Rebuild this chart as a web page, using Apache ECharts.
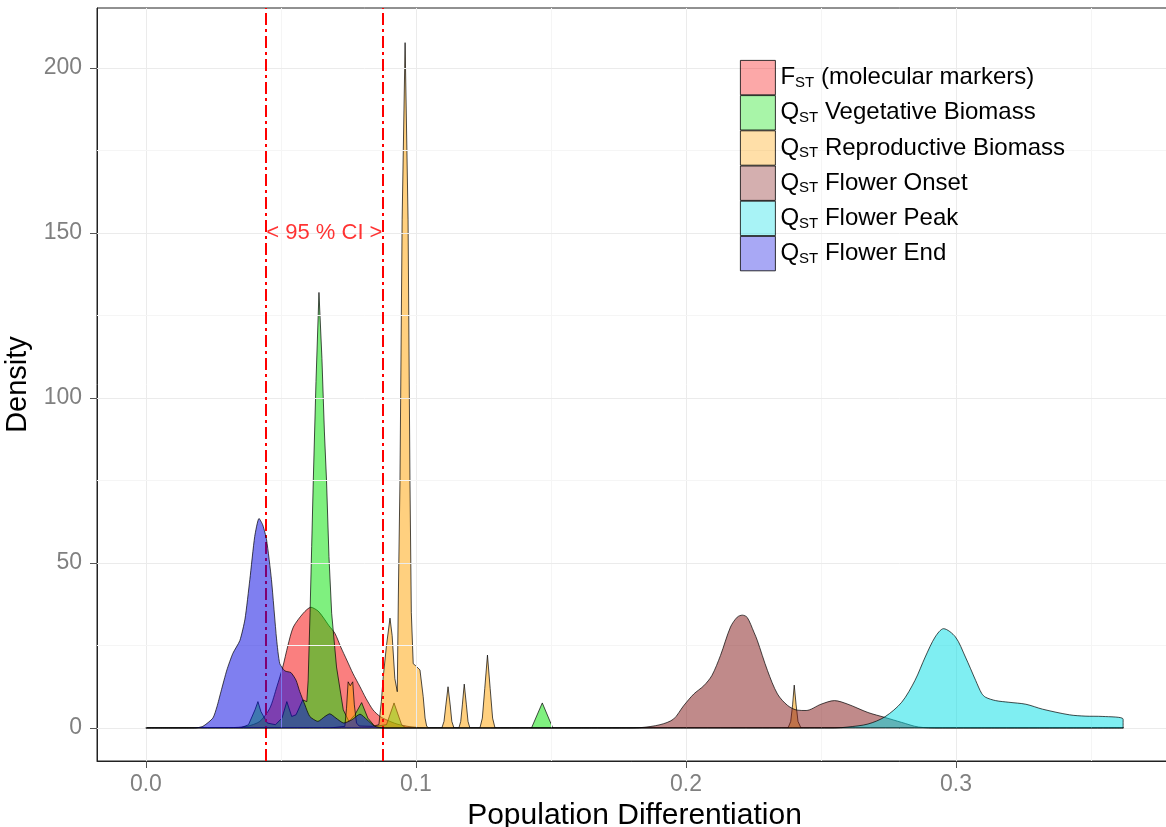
<!DOCTYPE html>
<html>
<head>
<meta charset="utf-8">
<script src="https://cdn.jsdelivr.net/npm/echarts@6/dist/echarts.min.js"></script>
<style>
html,body{margin:0;padding:0;background:#fff;}
#chart{width:1166px;height:827px;}
</style>
</head>
<body>
<div id="chart"></div>
<script>
// ---- data ----
const seriesNames = [
  'FST (molecular markers)',
  'QST Vegetative Biomass',
  'QST Reproductive Biomass',
  'QST Flower Onset',
  'QST Flower Peak',
  'QST Flower End'
];

const fstDensity = [[0,0],[0.031,0.1],[0.0374,0.5],[0.0422,2],[0.0459,6],[0.0485,12.5],[0.0507,18.5],[0.0526,25],[0.0546,30.6],[0.0583,34.8],[0.0611,36.6],[0.0637,35.5],[0.0656,33.6],[0.0678,31],[0.07,28.7],[0.0722,24.5],[0.0744,20.6],[0.0767,16.5],[0.0793,12.5],[0.0815,9],[0.0841,5.5],[0.0867,3.5],[0.0893,2.4],[0.093,1.2],[0.0978,0.4],[0.105,0],[0.362,0]];

const vegDensity = [[0,0],[0.035,0],[0.038,1],[0.0404,5.5],[0.0415,8],[0.0426,5],[0.045,1.5],[0.048,1],[0.0504,3],[0.0522,8],[0.054,3.5],[0.0556,4],[0.0581,8.5],[0.0596,8],[0.0601,14.5],[0.0608,35],[0.0614,55],[0.062,75],[0.063,105],[0.0641,132],[0.0652,112],[0.0661,90],[0.0669,75],[0.0678,52],[0.0688,34.8],[0.0706,18.5],[0.0731,5.5],[0.0752,2],[0.0774,4],[0.0799,7.7],[0.0822,3],[0.0848,0.5],[0.0891,1],[0.0919,7.6],[0.0947,1],[0.0963,0],[0.1428,0],[0.1468,7.6],[0.1507,0],[0.362,0]];

const reproDensity = [[0,0],[0.068,0],[0.0737,0.5],[0.0743,6],[0.0749,14],[0.0757,12.8],[0.0766,14],[0.0772,7],[0.078,1.5],[0.079,0.6],[0.084,0.5],[0.0863,1],[0.0872,8],[0.0879,15.5],[0.0891,25],[0.0904,33.3],[0.0912,28],[0.0922,15],[0.0931,11],[0.0935,40],[0.0941,75],[0.0949,154],[0.096,207.7],[0.0971,154],[0.0978,75],[0.0983,35],[0.099,19.5],[0.1,18.8],[0.1015,17.6],[0.1027,9.5],[0.1034,3],[0.104,0.5],[0.1048,0],[0.1096,0],[0.1104,2],[0.1111,7],[0.1119,12.5],[0.1127,7],[0.1133,2],[0.1141,0],[0.1159,0],[0.1166,2],[0.1172,7],[0.1179,13.3],[0.1187,7],[0.1193,2],[0.12,0],[0.1237,0],[0.1246,3],[0.1255,12],[0.1265,22.1],[0.1275,12],[0.1284,3],[0.1293,0],[0.2378,0],[0.2388,2],[0.2395,7],[0.2401,13],[0.2408,7],[0.2415,2],[0.2426,0],[0.362,0]];

const onsetDensity = [[0,0],[0.178,0],[0.183,0.1],[0.1904,1],[0.1954,2.7],[0.1991,6.7],[0.2029,10.3],[0.2066,12.8],[0.2096,15.9],[0.2128,22],[0.2165,30.6],[0.219,33.6],[0.2209,34.2],[0.2227,33.5],[0.2252,29],[0.2264,26.6],[0.2302,17.4],[0.2339,10.3],[0.2377,6.8],[0.2413,5.4],[0.2445,5.3],[0.25,7.2],[0.255,8.3],[0.26,7.2],[0.2674,4.7],[0.2737,3.2],[0.2799,1.7],[0.2861,0.3],[0.294,0],[0.362,0]];

const peakDensity = [[0,0],[0.255,0],[0.26,0.3],[0.2674,1.2],[0.2737,3.4],[0.2799,7.8],[0.2848,14.4],[0.2886,21.5],[0.2923,27.6],[0.2954,30.1],[0.2998,27.6],[0.3035,21.5],[0.3073,14.4],[0.3095,10.5],[0.311,9.3],[0.3147,8.3],[0.3196,7.8],[0.3259,7.2],[0.3321,5.7],[0.342,4.0],[0.3478,3.6],[0.3544,3.5],[0.3619,2.7],[0.3619,0]];

const endDensity = [[0,0],[0.018,0],[0.0211,0.5],[0.0248,3],[0.0263,6.4],[0.0278,11],[0.03,17.6],[0.0322,22.6],[0.0348,26.5],[0.0367,33],[0.0385,45],[0.0403,58],[0.0419,63.5],[0.0433,61.5],[0.0447,57],[0.0465,45],[0.0484,27],[0.0496,19.5],[0.0515,17.3],[0.0537,16.8],[0.0556,14.5],[0.057,11],[0.0589,7],[0.0607,3.5],[0.0637,2],[0.0663,3.5],[0.0681,4.3],[0.0704,3],[0.0733,1.5],[0.0763,2.5],[0.0793,4.2],[0.0819,2.5],[0.0848,0.5],[0.0885,0],[0.362,0]];

const ciBounds = [0.0444, 0.0878];
const ciLabel = '< 95 % CI >';
const ciLabelY = 150;

const xTicks = [0, 0.1, 0.2, 0.3];
const xTickLabels = ['0.0', '0.1', '0.2', '0.3'];
const xMinorGrid = [0.05, 0.15, 0.25, 0.35];
const yTicks = [0, 50, 100, 150, 200];
const yTickLabels = ['0', '50', '100', '150', '200'];
const yMinorGrid = [25, 75, 125, 175];

const xRange = [-0.0181, 0.38];
const yRange = [-10.0, 218.2];

// ---- styling ----
const baseColors = [
  [245, 0, 0],
  [0, 225, 0],
  [255, 161, 0],
  [129, 21, 21],
  [0, 221, 229],
  [0, 0, 225]
];
const rgba = (c, a) => `rgba(${c[0]},${c[1]},${c[2]},${a})`;
const allData = [fstDensity, vegDensity, reproDensity, onsetDensity, peakDensity, endDensity];
const smoothFlags = [0.25, false, false, 0.3, 0.3, 0.2];
const FONT = '"Liberation Sans", Arial, Helvetica, sans-serif';

const chart = echarts.init(document.getElementById('chart'), null, {renderer: 'canvas'});

const series = [];
// grid lines series (drawn beneath)
series.push({
  type: 'line', name: '__grid', data: [], z: 1, silent: true,
  markLine: {
    silent: true, symbol: 'none', label: {show: false}, animation: false, precision: 6,
    data: [
      ...xTicks.map(v => ({xAxis: v, lineStyle: {color: '#EBEBEB', width: 1, type: 'solid'}})),
      ...xMinorGrid.map(v => ({xAxis: v, lineStyle: {color: '#F5F5F5', width: 1, type: 'solid'}})),
      ...yTicks.map(v => ({yAxis: v, lineStyle: {color: '#EBEBEB', width: 1, type: 'solid'}})),
      ...yMinorGrid.map(v => ({yAxis: v, lineStyle: {color: '#F5F5F5', width: 1, type: 'solid'}}))
    ]
  }
});

seriesNames.forEach((name, i) => {
  series.push({
    type: 'line', name: name, data: allData[i], z: 2 + i,
    showSymbol: false, symbol: 'none',
    smooth: smoothFlags[i],
    lineStyle: {color: '#000', width: 0.7},
    itemStyle: {color: rgba(baseColors[i], 0.5)},
    areaStyle: {color: rgba(baseColors[i], 0.5), opacity: 1},
    emphasis: {disabled: true},
    animation: false
  });
});

// CI lines and label
series.push({
  type: 'scatter', name: '__ci', z: 20, silent: true,
  data: [[(ciBounds[0] + ciBounds[1]) / 2, ciLabelY]],
  symbolSize: 1,
  itemStyle: {color: 'transparent'},
  label: {show: true, position: 'inside', formatter: ciLabel, color: '#FF0000', fontSize: 22, fontFamily: FONT},
  markLine: {
    silent: true, symbol: 'none', label: {show: false}, animation: false, precision: 6,
    lineStyle: {color: '#FF0000', width: 2, type: [12, 4, 3, 4]},
    data: ciBounds.map(v => ({xAxis: v}))
  }
});

const legendFormatter = (name) => {
  const first = name.charAt(0);
  const rest = name.slice(3);
  return `{m|${first}}{s|ST}{m|${rest}}`;
};

chart.setOption({
  animation: false,
  backgroundColor: '#fff',
  textStyle: {fontFamily: FONT},
  grid: {left: 97, right: -6, top: 8, bottom: 66, show: true, containLabel: false, outerBoundsMode: 'none',
         borderColor: '#222', borderWidth: 1, backgroundColor: 'transparent'},
  legend: {
    orient: 'vertical', left: 740, top: 60, padding: 0, itemGap: 0, z: 100, zlevel: 0,
    itemWidth: 35, itemHeight: 34.4,
    selectedMode: false,
    data: seriesNames.map((n, i) => ({
      name: n, icon: 'rect',
      itemStyle: {color: rgba(baseColors[i], 0.34), borderColor: '#000', borderWidth: 0.8}
    })),
    formatter: legendFormatter,
    textStyle: {
      fontFamily: FONT, color: '#000',
      rich: {
        m: {fontSize: 24, color: '#000', fontFamily: FONT},
        s: {fontSize: 15, color: '#000', fontFamily: FONT, padding: [10, 0, 0, 0]}
      }
    }
  },
  xAxis: {
    type: 'value', min: xRange[0], max: xRange[1],
    name: 'Population Differentiation', nameLocation: 'middle', nameGap: 30,
    nameTextStyle: {fontSize: 30, color: '#000', fontFamily: FONT},
    splitLine: {show: false},
    axisLine: {show: true, onZero: false, lineStyle: {color: '#222', width: 1}},
    axisTick: {show: true, length: 7, customValues: xTicks, lineStyle: {color: '#555', width: 1}},
    axisLabel: {
      show: true, customValues: xTicks, margin: 12, fontSize: 23, color: '#808080', fontFamily: FONT,
      formatter: (v) => { const k = xTicks.findIndex(t => Math.abs(t - v) < 1e-9); return k >= 0 ? xTickLabels[k] : ''; }
    }
  },
  yAxis: {
    type: 'value', min: yRange[0], max: yRange[1],
    name: 'Density', nameLocation: 'middle', nameGap: 58,
    nameTextStyle: {fontSize: 29, color: '#000', fontFamily: FONT},
    splitLine: {show: false},
    axisLine: {show: true, onZero: false, lineStyle: {color: '#222', width: 1}},
    axisTick: {show: true, length: 7, customValues: yTicks, lineStyle: {color: '#555', width: 1}},
    axisLabel: {
      show: true, customValues: yTicks, margin: 15, fontSize: 23, color: '#808080', fontFamily: FONT,
      formatter: (v) => { const k = yTicks.findIndex(t => Math.abs(t - v) < 1e-9); return k >= 0 ? yTickLabels[k] : ''; }
    }
  },
  series: series
});
</script>
</body>
</html>
